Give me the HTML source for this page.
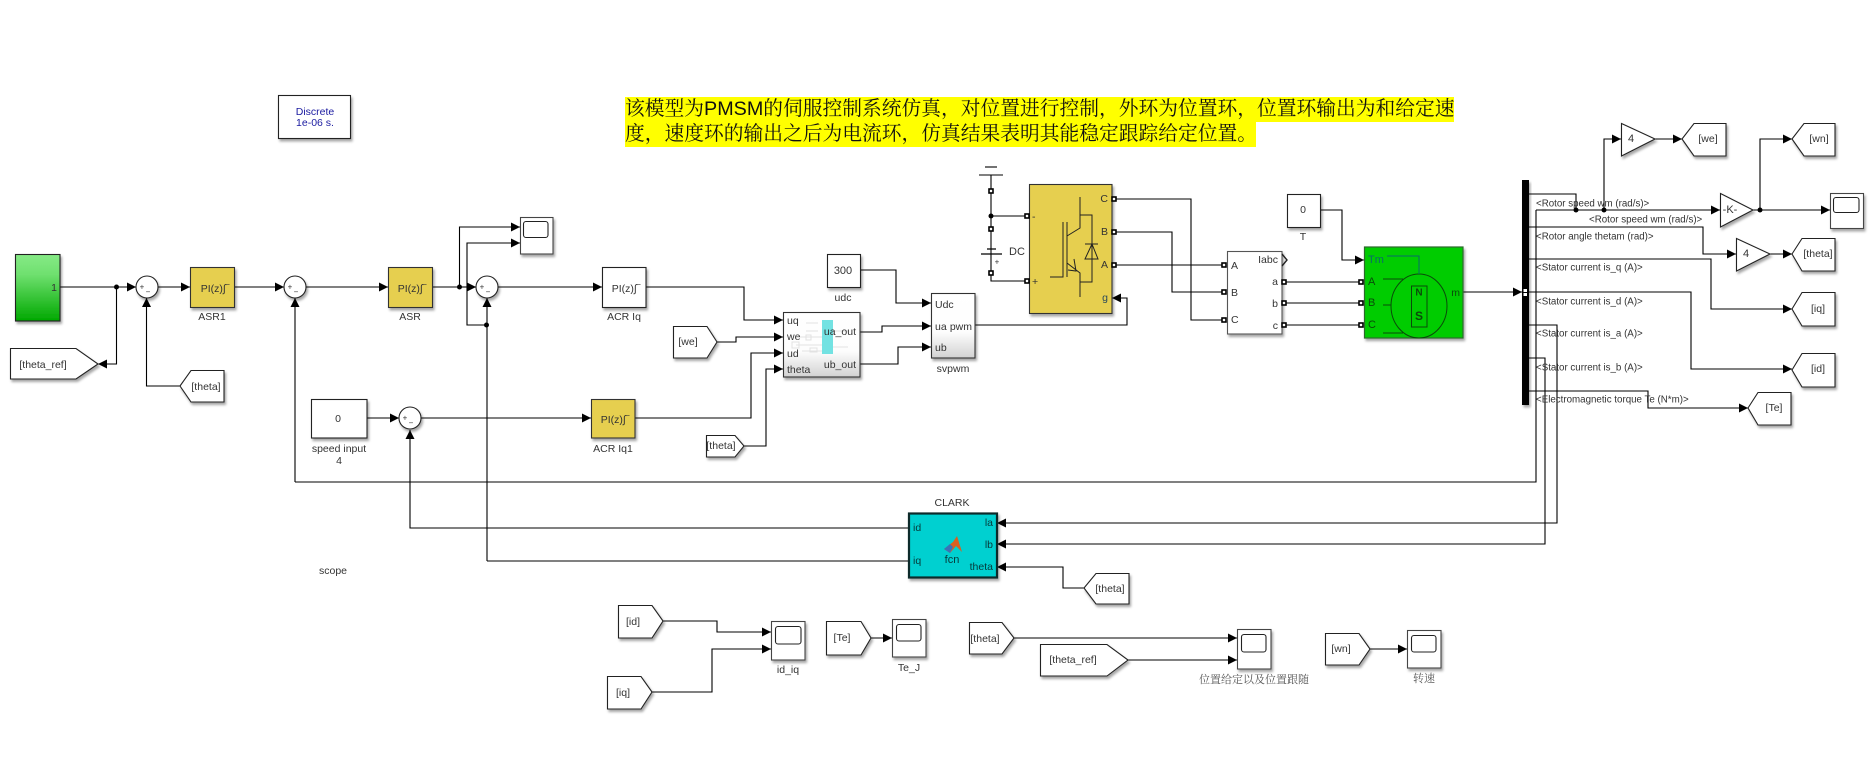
<!DOCTYPE html>
<html>
<head>
<meta charset="utf-8">
<title>PMSM</title>
<style>
html,body{margin:0;padding:0;background:#fff;width:1875px;height:778px;overflow:hidden}
svg{display:block}
text{font-family:"Liberation Sans","Noto Sans CJK SC",sans-serif;font-size:10.5px;fill:#333;dominant-baseline:central;transform:translateY(1px)}
.m{text-anchor:middle}
.e{text-anchor:end}
.l{fill:none;stroke:#000;stroke-width:1.1}
.w{fill:none;stroke:#000;stroke-width:1.1;marker-end:url(#a)}
.b{fill:#fff;stroke:#222;stroke-width:1.1;filter:url(#s)}
.y{fill:#e6cf50;stroke:#333;stroke-width:1.1;filter:url(#s)}
.sc{fill:#fff;stroke:#444;stroke-width:1.1;filter:url(#s)}
.scr{fill:#fff;stroke:#222;stroke-width:1.1}
.bus{font-size:9.75px}
.ic{fill:none;stroke:#222;stroke-width:1}
.cj{font-family:"Noto Serif CJK SC","Liberation Serif",serif;font-size:11px;fill:#555}
.ghost{fill:none;stroke:#e2e2e2;stroke-width:1}
.gr{fill:#0a4a0a}
</style>
</head>
<body>
<svg width="1875" height="778" viewBox="0 0 1875 778" xmlns="http://www.w3.org/2000/svg">
<defs>
<filter id="s" x="-30%" y="-30%" width="170%" height="170%"><feDropShadow dx="1.5" dy="2.5" stdDeviation="1.4" flood-color="#000" flood-opacity="0.35"/></filter>
<marker id="a" markerUnits="userSpaceOnUse" markerWidth="11" markerHeight="11" refX="10" refY="5" orient="auto"><path d="M1 0.500L10 5L1 9.500Z" fill="#000"/></marker>
<linearGradient id="gG" x1="0" y1="0" x2="0" y2="1"><stop offset="0" stop-color="#86ea86"/><stop offset="0.3" stop-color="#6fe06f"/><stop offset="1" stop-color="#00a800"/></linearGradient>
<linearGradient id="gW" x1="0" y1="0" x2="0" y2="1"><stop offset="0" stop-color="#fff"/><stop offset="0.6" stop-color="#fdfdfd"/><stop offset="1" stop-color="#d2d2d2"/></linearGradient>
<g id="p"><rect x="-2" y="-2" width="4" height="4" fill="#fff" stroke="#000" stroke-width="1.6"/></g>
</defs>

<!-- note -->
<rect x="625" y="97" width="829" height="25" fill="#ffff00"/>
<rect x="625" y="122" width="631" height="25" fill="#ffff00"/>
<text x="625" y="108" style="font-size:19.75px;fill:#111;font-family:'Liberation Sans','Noto Serif CJK SC',serif">该模型为<tspan>PMSM</tspan>的伺服控制系统仿真，对位置进行控制，外环为位置环，位置环输出为和给定速</text>
<text x="625" y="133" style="font-size:19.75px;fill:#111;font-family:'Liberation Sans','Noto Serif CJK SC',serif">度，速度环的输出之后为电流环，仿真结果表明其能稳定跟踪给定位置。</text>

<!-- powergui -->
<rect class="b" x="278.500" y="95.500" width="72" height="43"/>
<text class="m" x="315" y="111" style="fill:#1a1aa0;font-size:10.5px">Discrete</text>
<text class="m" x="315" y="122" style="fill:#1a1aa0;font-size:10.500px">1e-06 s.</text>

<!-- connectors -->
<g>
<path class="w" d="M60 287H136"/>
<path class="w" d="M116.500 287V364H98"/>
<path class="w" d="M158 287H190"/>
<path class="w" d="M235 287H284"/>
<path class="w" d="M306 287H388"/>
<path class="l" d="M432 287H460"/>
<path class="w" d="M460 287H476"/>
<path class="w" d="M498 287H602"/>
<path class="w" d="M459.500 287V227H520"/>
<path class="w" d="M486 325H467V243H520"/>
<path class="w" d="M487 561V298"/>
<path class="w" d="M180 386H146.500V298"/>
<path class="w" d="M367 418H399"/>
<path class="w" d="M421 418H591"/>
<path class="w" d="M295 482V298"/>
<path class="l" d="M295 482H1536V210"/>
<path class="w" d="M908 528H410V430"/>
<path class="l" d="M908 561H487"/>
<path class="w" d="M646 287H744V320H783"/>
<path class="w" d="M717 342H736V337H783"/>
<path class="w" d="M635 418H751V353H783"/>
<path class="w" d="M744 446H766V369H783"/>
<path class="w" d="M860 270H896V303H931"/>
<path class="w" d="M860 332H882V326H931"/>
<path class="w" d="M860 364H898V347H931"/>
<path class="w" d="M975 325H1127V298H1112"/>
<path class="l" d="M1114 199H1191V320H1224"/>
<path class="l" d="M1114 232H1172V292H1224"/>
<path class="l" d="M1114 265H1224"/>
<path class="l" d="M991 175V254"/>
<path class="l" d="M991 254V281H1027"/>
<path class="l" d="M991 216H1027"/>
<path class="l" d="M1284 282H1361M1284 303H1361M1284 325H1361"/>
<path class="w" d="M1320 210H1342V260H1364"/>
<path class="w" d="M1463 292H1522"/>
<path class="l" d="M1529 194H1576V210"/>
<path class="w" d="M1536 210H1720"/>
<path class="w" d="M1604 210V139H1621"/>
<path class="w" d="M1655 139H1682"/>
<path class="w" d="M1753 210H1830"/>
<path class="w" d="M1760 210V139H1792"/>
<path class="w" d="M1529 227H1703V254H1736"/>
<path class="w" d="M1770 254H1792"/>
<path class="w" d="M1529 259H1711V309H1792"/>
<path class="w" d="M1529 292H1691V369H1792"/>
<path class="w" d="M1529 325H1557V523H997"/>
<path class="w" d="M1529 358H1545V544H997"/>
<path class="w" d="M1529 391H1648V408H1748"/>
<path class="w" d="M1084 588H1063V567H997"/>
<path class="w" d="M663 621H717V632H771"/>
<path class="w" d="M652 692H712V649H771"/>
<path class="w" d="M871 638H892"/>
<path class="w" d="M1014 638H1237"/>
<path class="w" d="M1128 660H1237"/>
<path class="w" d="M1370 649H1407"/>
<circle cx="116.500" cy="287" r="2.500"/>
<circle cx="459.500" cy="287" r="2.500"/>
<circle cx="486.500" cy="325" r="2.500"/>
<circle cx="991" cy="216" r="2.500"/>
<circle cx="1576" cy="210" r="2.500"/>
<circle cx="1604" cy="210" r="2.500"/>
<circle cx="1760" cy="210" r="2.500"/>
</g>

<!-- ground / DC -->
<path class="l" d="M985 167H997"/>
<path class="l" d="M979 175H1003"/>
<path d="M981 254H1002M987 249H996" stroke="#000" stroke-width="1.3" fill="none"/>
<use href="#p" x="991" y="191"/>
<use href="#p" x="991" y="229"/>
<use href="#p" x="991" y="273"/>
<text x="1009" y="251" style="font-size:11px">DC</text>
<text class="m" x="997" y="261" style="font-size:8px">+</text>

<!-- source -->
<rect x="15.500" y="254.500" width="44.500" height="66.500" fill="url(#gG)" stroke="#222" stroke-width="1.1" filter="url(#s)"/>
<text class="e" x="57" y="287">1</text>

<!-- sums -->
<g>
<circle class="b" cx="147" cy="287" r="11"/><circle class="b" cx="295" cy="287" r="11"/><circle class="b" cx="487" cy="287" r="11"/><circle class="b" cx="410" cy="418" r="11"/>
<text class="m" x="142" y="286" style="font-size:8px">+</text><text class="m" x="148" y="291" style="font-size:8px">−</text>
<text class="m" x="290" y="286" style="font-size:8px">+</text><text class="m" x="296" y="291" style="font-size:8px">−</text>
<text class="m" x="482" y="286" style="font-size:8px">+</text><text class="m" x="488" y="291" style="font-size:8px">−</text>
<text class="m" x="405" y="417" style="font-size:8px">+</text><text class="m" x="411" y="422" style="font-size:8px">−</text>
</g>

<!-- PI -->
<rect class="y" x="190.500" y="267.500" width="44" height="40"/>
<text class="m" x="215" y="288">PI(z)∫‾</text>
<text class="m" x="212" y="316">ASR1</text>
<rect class="y" x="388.500" y="267.500" width="44" height="40"/>
<text class="m" x="412" y="288">PI(z)∫‾</text>
<text class="m" x="410" y="316">ASR</text>
<rect class="b" x="602.500" y="267.500" width="43.500" height="40"/>
<text class="m" x="626" y="288">PI(z)∫‾</text>
<text class="m" x="624" y="316">ACR Iq</text>
<rect class="y" x="591.500" y="399.500" width="43.500" height="38.500"/>
<text class="m" x="615" y="419">PI(z)∫‾</text>
<text class="m" x="613" y="448">ACR Iq1</text>

<!-- constants -->
<rect class="b" x="311.500" y="399.500" width="55.500" height="38.500"/>
<text class="m" x="338" y="418">0</text>
<text class="m" x="339" y="448">speed input</text>
<text class="m" x="339" y="460">4</text>
<text class="m" x="333" y="570">scope</text>
<rect class="b" x="827.500" y="254.500" width="33" height="33"/>
<text class="m" x="843" y="270" style="font-size:11px">300</text>
<text class="m" x="843" y="297">udc</text>
<rect class="b" x="1287.500" y="194.500" width="33" height="33"/>
<text class="m" x="1303" y="209">0</text>
<text class="m" x="1303" y="236">T</text>

<!-- scopes -->
<rect class="sc" x="520.500" y="217.500" width="32.500" height="36.500"/><rect class="scr" x="523.500" y="221.500" width="24.500" height="16" rx="2.500"/>
<rect class="sc" x="771.500" y="621.500" width="33.500" height="38.500"/><rect class="scr" x="775.500" y="626.500" width="25.500" height="17.500" rx="2.500"/>
<text class="m" x="788" y="669">id_iq</text>
<rect class="sc" x="892.500" y="619.500" width="33.500" height="37.500"/><rect class="scr" x="896.500" y="624.500" width="24.500" height="16.500" rx="2.500"/>
<text class="m" x="909" y="667">Te_J</text>
<rect class="sc" x="1237.500" y="629.500" width="33.500" height="39.500"/><rect class="scr" x="1241.500" y="634.500" width="24.500" height="17.500" rx="2.500"/>
<text class="m cj" x="1254" y="678">位置给定以及位置跟随</text>
<rect class="sc" x="1407.500" y="630.500" width="33.500" height="37.500"/><rect class="scr" x="1411.500" y="635.500" width="24.500" height="16.500" rx="2.500"/>
<text class="m cj" x="1424" y="677">转速</text>
<rect class="sc" x="1830.500" y="193.500" width="33" height="35"/><rect class="scr" x="1833.500" y="197.500" width="25.500" height="15" rx="2.500"/>

<!-- From / Goto tags -->
<polygon class="b" points="10.500,348.500 76,348.500 98,364 76,379 10.500,379"/>
<text class="m" x="43" y="364">[theta_ref]</text>
<polygon class="b" points="180,386 191,370.500 224,370.500 224,402 191,402"/>
<text class="m" x="206" y="386">[theta]</text>
<polygon class="b" points="673.500,326.500 707,326.500 717,342 707,358 673.500,358"/>
<text class="m" x="688" y="341">[we]</text>
<polygon class="b" points="706.500,435.500 735,435.500 744,446 735,457 706.500,457"/>
<text class="m" x="721" y="445">[theta]</text>
<polygon class="b" points="1084,588 1096,573.500 1129,573.500 1129,604 1096,604"/>
<text class="m" x="1110" y="588">[theta]</text>
<polygon class="b" points="618.500,605.500 652,605.500 663,621 652,638 618.500,638"/>
<text class="m" x="633" y="621">[id]</text>
<polygon class="b" points="607.500,676.500 641,676.500 652,692 641,709 607.500,709"/>
<text class="m" x="623" y="692">[iq]</text>
<polygon class="b" points="826.500,621.500 861,621.500 871,638 861,655 826.500,655"/>
<text class="m" x="842" y="637">[Te]</text>
<polygon class="b" points="969.500,622.500 1002,622.500 1014,638 1002,654 969.500,654"/>
<text class="m" x="985" y="638">[theta]</text>
<polygon class="b" points="1040.500,644.500 1107,644.500 1128,660 1107,676 1040.500,676"/>
<text class="m" x="1073" y="659">[theta_ref]</text>
<polygon class="b" points="1325.500,633.500 1359,633.500 1370,649 1359,665 1325.500,665"/>
<text class="m" x="1341" y="648">[wn]</text>
<polygon class="b" points="1682,139 1694,123.500 1726,123.500 1726,156 1694,156"/>
<text class="m" x="1708" y="138">[we]</text>
<polygon class="b" points="1792,139 1804,123.500 1835,123.500 1835,156 1804,156"/>
<text class="m" x="1819" y="138">[wn]</text>
<polygon class="b" points="1792,254 1802,238.500 1835,238.500 1835,271 1802,271"/>
<text class="m" x="1818" y="253">[theta]</text>
<polygon class="b" points="1792,309 1802,292.500 1835,292.500 1835,326 1802,326"/>
<text class="m" x="1818" y="308">[iq]</text>
<polygon class="b" points="1792,370 1802,353.500 1835,353.500 1835,387 1802,387"/>
<text class="m" x="1818" y="368">[id]</text>
<polygon class="b" points="1748,408 1758,392.500 1791,392.500 1791,425 1758,425"/>
<text class="m" x="1774" y="407">[Te]</text>

<!-- gains -->
<polygon class="b" points="1621.500,123.500 1655,139 1621.500,156"/>
<text class="m" x="1631" y="138" style="font-size:11px">4</text>
<polygon class="b" points="1720.500,193.500 1753,210 1720.500,227"/>
<text class="m" x="1730" y="209" style="font-size:11px">-K-</text>
<polygon class="b" points="1736.500,238.500 1770,254 1736.500,271"/>
<text class="m" x="1746" y="253" style="font-size:11px">4</text>

<!-- subsystem -->
<rect x="783.500" y="312.500" width="76.500" height="64.500" fill="url(#gW)" stroke="#333" stroke-width="1.1" filter="url(#s)"/>
<g>
<path class="ghost" d="M806 323H818M806 331H818M800 337H822M796 345H822M802 351H822M833 331H848M833 347H848"/>
<rect class="ghost" x="792" y="342" width="7" height="6"/><rect class="ghost" x="806" y="335" width="5" height="5"/><rect class="ghost" x="810" y="348" width="7" height="4"/>
</g>
<rect x="822" y="320" width="11" height="34" fill="#73e2e2"/>
<text x="787" y="320">uq</text>
<text x="787" y="336">we</text>
<text x="787" y="353">ud</text>
<text x="787" y="369">theta</text>
<text class="e" x="856" y="331">ua_out</text>
<text class="e" x="856" y="364">ub_out</text>

<!-- svpwm -->
<rect x="931.500" y="293.500" width="43.500" height="64.500" fill="url(#gW)" stroke="#333" stroke-width="1.1" filter="url(#s)"/>
<text x="935" y="304">Udc</text>
<text x="935" y="326">ua</text>
<text x="935" y="347">ub</text>
<text class="e" x="972" y="326">pwm</text>
<text class="m" x="953" y="368">svpwm</text>

<!-- inverter -->
<rect class="y" x="1029.500" y="184.500" width="82.500" height="129"/>
<text x="1032" y="216">-</text>
<text x="1032" y="281">+</text>
<text class="e" x="1108" y="198">C</text>
<text class="e" x="1108" y="231">B</text>
<text class="e" x="1108" y="264">A</text>
<text class="e" x="1108" y="297" style="fill:#2a4a5a">g</text>
<path class="ic" d="M1050 277H1063V222M1067 222V277M1067 236L1080 228V197M1080 215H1092V282H1080M1067 263L1080 273V297M1074 259L1076 271L1068 270M1085 244H1098M1092 244L1085 259H1098L1092 244"/>
<use href="#p" x="1027" y="216"/>
<use href="#p" x="1027" y="281"/>
<use href="#p" x="1114" y="199"/>
<use href="#p" x="1114" y="232"/>
<use href="#p" x="1114" y="265"/>

<!-- measurement -->
<rect class="b" x="1227.500" y="251.500" width="54.500" height="82.500" style="stroke:#555"/>
<text x="1231" y="265">A</text>
<text x="1231" y="292">B</text>
<text x="1231" y="319">C</text>
<text class="e" x="1278" y="259">Iabc</text>
<text class="e" x="1278" y="281">a</text>
<text class="e" x="1278" y="303">b</text>
<text class="e" x="1278" y="325">c</text>
<path d="M1282 254L1287 260L1282 266" fill="none" stroke="#222" stroke-width="1.4"/>
<use href="#p" x="1224" y="265"/>
<use href="#p" x="1224" y="292"/>
<use href="#p" x="1224" y="320"/>
<use href="#p" x="1284" y="282"/>
<use href="#p" x="1284" y="303"/>
<use href="#p" x="1284" y="325"/>

<!-- motor -->
<rect x="1364.500" y="247" width="98.500" height="91" fill="#00cc00" stroke="#2a6a2a" stroke-width="1.2" filter="url(#s)"/>
<ellipse cx="1419" cy="306" rx="28" ry="32" fill="none" stroke="#0a4a0a" stroke-width="1"/>
<rect x="1411.500" y="286" width="15.500" height="41" fill="none" stroke="#0a4a0a" stroke-width="1"/>
<path d="M1387 256H1419V274" fill="none" stroke="#0a6a6a" stroke-width="1"/>
<path d="M1383 279H1403M1383 305H1391M1383 333H1403" fill="none" stroke="#0a4a0a" stroke-width="1"/>
<text x="1368" y="259" style="fill:#0a6a6a;font-size:11px">Tm</text>
<text class="gr" x="1368" y="281" style="font-size:11px">A</text>
<text class="gr" x="1368" y="302" style="font-size:11px">B</text>
<text class="gr" x="1368" y="324" style="font-size:11px">C</text>
<text class="gr m" x="1419" y="292" style="font-size:10px;font-weight:bold">N</text>
<text class="gr m" x="1419" y="315" style="font-size:12px;font-weight:bold">S</text>
<text class="gr e" x="1460" y="292">m</text>
<use href="#p" x="1361" y="282"/>
<use href="#p" x="1361" y="303"/>
<use href="#p" x="1361" y="325"/>

<!-- bus selector -->
<rect x="1522" y="180" width="7" height="225" fill="#000" filter="url(#s)"/>
<rect x="1523.500" y="289" width="3.500" height="3" fill="#fff"/><rect x="1523.500" y="293" width="3.500" height="3" fill="#fff"/>
<text class="bus" x="1536" y="203">&lt;Rotor speed wm (rad/s)&gt;</text>
<text class="bus" x="1589" y="219">&lt;Rotor speed wm (rad/s)&gt;</text>
<text class="bus" x="1536" y="236">&lt;Rotor angle thetam (rad)&gt;</text>
<text class="bus" x="1536" y="267">&lt;Stator current is_q (A)&gt;</text>
<text class="bus" x="1536" y="301">&lt;Stator current is_d (A)&gt;</text>
<text class="bus" x="1536" y="333">&lt;Stator current is_a (A)&gt;</text>
<text class="bus" x="1536" y="367">&lt;Stator current is_b (A)&gt;</text>
<text class="bus" x="1536" y="399">&lt;Electromagnetic torque Te (N*m)&gt;</text>

<!-- CLARK -->
<rect x="909" y="513.500" width="88" height="64" fill="#00d0d0" stroke="#0a2a2a" stroke-width="2.200" filter="url(#s)"/>
<text class="m" x="952" y="502">CLARK</text>
<text x="913" y="527" style="fill:#063a3a">id</text>
<text x="913" y="560" style="fill:#063a3a">iq</text>
<text class="e" x="993" y="522" style="fill:#063a3a">la</text>
<text class="e" x="993" y="544" style="fill:#063a3a">lb</text>
<text class="e" x="993" y="566" style="fill:#063a3a">theta</text>
<text class="m" x="952" y="559" style="fill:#063a3a;font-size:11px">fcn</text>
<polygon points="944,549 953,542 957,536 962,552 956,546 950,553" fill="#d9601f"/>
<polygon points="944,549 950,544 953,547 950,553" fill="#3a72b8"/>
</svg>
</body>
</html>
